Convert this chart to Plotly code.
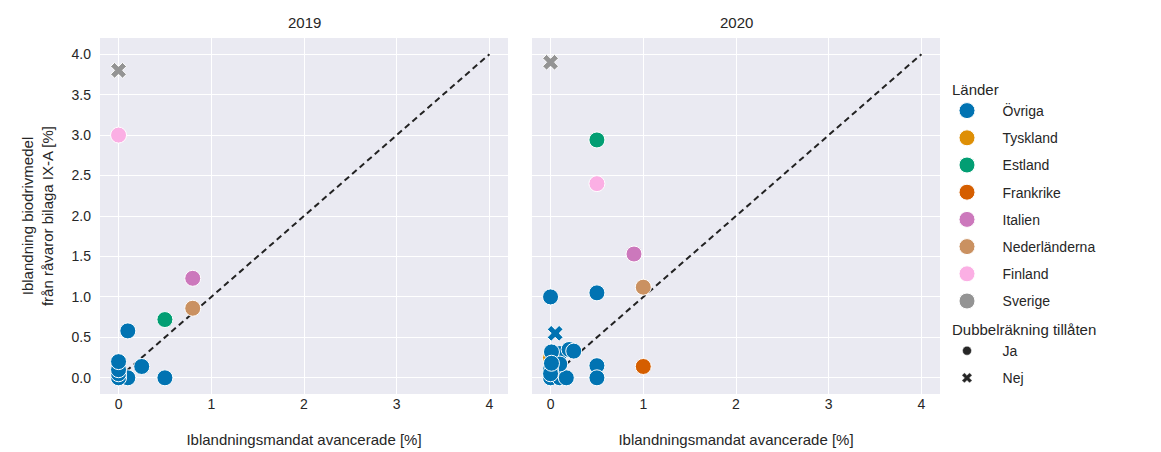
import plotly.graph_objects as go

# ---- data ----
countries = ["Övriga", "Tyskland", "Estland", "Frankrike", "Italien", "Nederländerna", "Finland", "Sverige"]
colors = ["#0173B2", "#DE8F05", "#029E73", "#D55E00", "#CC78BC", "#CA9161", "#FBAFE4", "#949494"]

# 2019 points: country, mandate x, blend y, double counting allowed
c2019 = ["Övriga", "Övriga", "Övriga", "Övriga", "Övriga", "Övriga", "Övriga", "Övriga",
         "Estland", "Italien", "Nederländerna", "Finland", "Sverige"]
x2019 = [0.1, 0.25, 0.1, 0.5, 0.0, 0.0, 0.0, 0.0, 0.5, 0.8, 0.8, 0.0, 0.0]
y2019 = [0.58, 0.14, 0.0, 0.0, 0.0, 0.05, 0.1, 0.2, 0.72, 1.23, 0.86, 3.0, 3.8]
d2019 = ["Ja", "Ja", "Ja", "Ja", "Ja", "Ja", "Ja", "Ja", "Ja", "Ja", "Ja", "Ja", "Nej"]

c2020 = ["Tyskland", "Övriga", "Övriga", "Övriga", "Övriga", "Övriga", "Övriga", "Övriga", "Övriga",
         "Övriga", "Övriga", "Övriga", "Övriga", "Övriga", "Övriga", "Övriga", "Övriga",
         "Estland", "Finland", "Italien", "Nederländerna", "Frankrike", "Sverige"]
x2020 = [0.0, 0.0, 0.5, 0.05, 0.5, 0.5, 0.0, 0.1, 0.17, 0.1, 0.2, 0.25, 0.1, 0.0, 0.0, 0.01, 0.01,
         0.5, 0.5, 0.9, 1.0, 1.0, 0.0]
y2020 = [0.25, 1.0, 1.05, 0.55, 0.15, 0.0, 0.0, 0.0, 0.0, 0.3, 0.35, 0.33, 0.17, 0.1, 0.05, 0.32, 0.18,
         2.94, 2.4, 1.53, 1.12, 0.14, 3.9]
d2020 = ["Ja", "Ja", "Ja", "Nej", "Ja", "Ja", "Ja", "Ja", "Ja", "Ja", "Ja", "Ja", "Ja", "Ja", "Ja", "Ja", "Ja",
         "Ja", "Ja", "Ja", "Ja", "Ja", "Nej"]

years = ["2019", "2020"]
ref_x = [0, 4]
ref_y = [0, 4]
ticks_x = [0, 1, 2, 3, 4]
ticks_y = [0.0, 0.5, 1.0, 1.5, 2.0, 2.5, 3.0, 3.5, 4.0]

FONT = "Liberation Sans, Arial, sans-serif"
BG = "#EAEAF2"
TXT = "#262626"
OFF = 8  # page body margin offset

fig = go.Figure()

panels = [(c2019, x2019, y2019, d2019, "x", "y"), (c2020, x2020, y2020, d2020, "x2", "y2")]
color_of = dict(zip(countries, colors))
draw_order = ["Tyskland", "Övriga", "Estland", "Frankrike", "Italien", "Nederländerna", "Finland", "Sverige"]

for c_list, xs, ys, ds, xa, ya in panels:
    fig.add_trace(go.Scatter(x=ref_x, y=ref_y, mode="lines", xaxis=xa, yaxis=ya,
                             line=dict(color="#222222", width=2, dash="6px,4px"),
                             showlegend=False, hoverinfo="skip"))
    for cname in draw_order:
        for dname, sym in [("Ja", "circle"), ("Nej", "x")]:
            px = [x for x, c, d in zip(xs, c_list, ds) if c == cname and d == dname]
            py = [y for y, c, d in zip(ys, c_list, ds) if c == cname and d == dname]
            if not px:
                continue
            fig.add_trace(go.Scatter(
                x=px, y=py, mode="markers", xaxis=xa, yaxis=ya, showlegend=False,
                marker=dict(color=color_of[cname], size=16 if sym == "circle" else 14,
                            symbol=sym, line=dict(color="white", width=1)),
            ))

PAD = "\u00a0" * 4
# legend entries
for i, cname in enumerate(countries):
    fig.add_trace(go.Scatter(
        x=[None], y=[None], mode="markers", name=PAD + cname,
        legendgroup="land%d" % i, legendgrouptitle=dict(text="Länder") if i == 0 else None,
        marker=dict(color=colors[i], size=16, symbol="circle", line=dict(color="white", width=1)),
    ))
for j, (dname, sym) in enumerate([("Ja", "circle"), ("Nej", "x")]):
    fig.add_trace(go.Scatter(
        x=[None], y=[None], mode="markers", name=PAD + dname,
        legendgroup="dub%d" % j, legendgrouptitle=dict(text="Dubbelräkning tillåten") if j == 0 else None,
        marker=dict(color="#262626", size=9, symbol=sym, line=dict(color="white", width=0.5)),
    ))

axis_common = dict(range=[-0.2, 4.2], showgrid=True, gridcolor="white", gridwidth=1.3,
                   zeroline=False, showline=False, ticks="", tickfont=dict(size=14, color=TXT),
                   title_font=dict(size=15, color=TXT), automargin=False)

W, H = 1161, 452
def px_x(p):
    return (p - OFF) / W
def px_y(p):
    return 1 - (p - OFF) / H

fig.update_layout(
    width=W, height=H, margin=dict(l=0, r=0, t=0, b=0),
    paper_bgcolor="white", plot_bgcolor=BG,
    font=dict(family=FONT, color=TXT),
    xaxis=dict(domain=[px_x(100), px_x(508)], anchor="y", tickvals=ticks_x,
               title=dict(text="Iblandningsmandat avancerade [%]", standoff=23), **axis_common),
    yaxis=dict(domain=[px_y(394), px_y(38)], anchor="x", tickvals=ticks_y, tickformat=".1f",
               ticklabelstandoff=8,
               title=dict(text="Iblandning biodrivmedel<br>från råvaror bilaga IX-A [%]", standoff=14),
               **axis_common),
    xaxis2=dict(domain=[px_x(532), px_x(940)], anchor="y2", tickvals=ticks_x,
                title=dict(text="Iblandningsmandat avancerade [%]", standoff=23), **axis_common),
    yaxis2=dict(domain=[px_y(394), px_y(38)], anchor="x2", tickvals=ticks_y,
                showticklabels=False, **axis_common),
    legend=dict(x=px_x(947), y=px_y(233), xanchor="left", yanchor="middle",
                font=dict(size=14, color=TXT), tracegroupgap=6,
                grouptitlefont=dict(size=15, color=TXT), itemsizing="trace"),
    annotations=[
        dict(text=years[0], x=px_x((100 + 508) / 2), y=px_y(22), xref="paper", yref="paper",
             xanchor="center", yanchor="middle",
             showarrow=False, font=dict(size=15, color=TXT)),
        dict(text=years[1], x=px_x((532 + 940) / 2), y=px_y(22), xref="paper", yref="paper",
             xanchor="center", yanchor="middle",
             showarrow=False, font=dict(size=15, color=TXT)),
    ],
)

fig.write_html("out.html")
